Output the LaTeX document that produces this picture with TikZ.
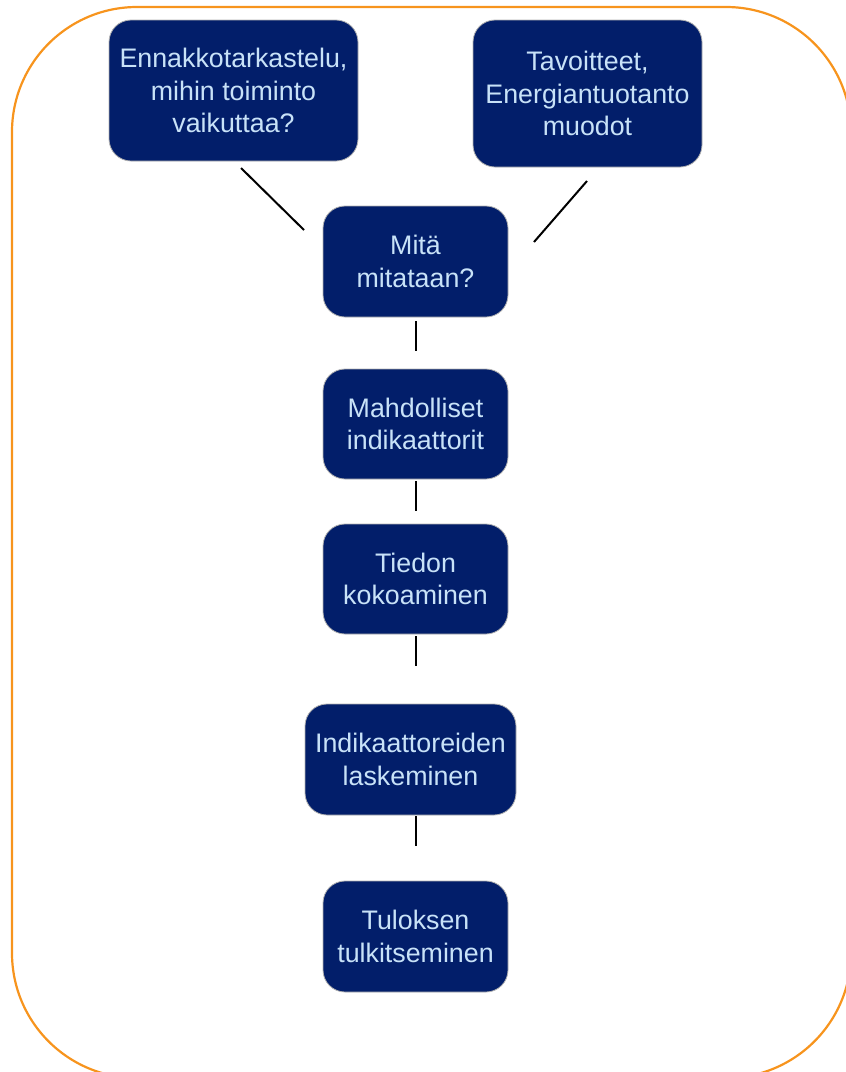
\documentclass[tikz,border=0pt]{standalone}
\usepackage{fontspec}
\setmainfont{Liberation Sans}
\definecolor{navy}{HTML}{021E6A}
\definecolor{lblue}{HTML}{C8E2F8}
\definecolor{borderorange}{HTML}{F7941D}
\begin{document}
\begin{tikzpicture}[x=1pt,y=-1pt,
  box/.style={draw=gray!60, line width=0.8pt, fill=navy, rounded corners=22pt,
    text=lblue, align=center, inner sep=0pt,
    font=\fontsize{26.8}{32.8}\selectfont},
  conn/.style={draw=black, line width=2pt}]
\useasboundingbox (0,0) rectangle (846,1072);
\begin{scope}
\clip (0,0) rectangle (846,1072);
\draw[borderorange, line width=2.2pt, rounded corners=125pt] (12,7) rectangle (851,1078);
\end{scope}
\node[box, minimum width=249pt, minimum height=141pt] (b1) at (233.5,90.5) {Ennakkotarkastelu,\\mihin toiminto\\vaikuttaa?};
\node[box, minimum width=229pt, minimum height=147pt] (b2) at (587.5,93.5) {Tavoitteet,\\Energiantuotanto\\muodot};
\node[box, minimum width=185pt, minimum height=111pt] (mita) at (415.5,261.5) {Mitä\\mitataan?};
\node[box, minimum width=185pt, minimum height=110pt] (mahd) at (415.5,424) {Mahdolliset\\indikaattorit};
\node[box, minimum width=185pt, minimum height=110pt] (tied) at (415.5,579) {Tiedon\\kokoaminen};
\node[box, minimum width=211pt, minimum height=111pt] (indi) at (410.5,759.5) {Indikaattoreiden\\laskeminen};
\node[box, minimum width=185pt, minimum height=111pt] (tulo) at (415.5,936.5) {Tuloksen\\tulkitseminen};
\coordinate (c1a) at (241,168);
\coordinate (c1b) at (304,230);
\coordinate (c2a) at (587,181);
\coordinate (c2b) at (534,242);
\draw[conn] (c1a) -- (c1b);
\draw[conn] (c2a) -- (c2b);
\draw[conn, shorten <=4pt, shorten >=18pt] (mita.south) -- (mahd.north);
\draw[conn, shorten <=2pt, shorten >=13pt] (mahd.south) -- (tied.north);
\draw[conn, shorten <=2pt, shorten >=38pt] (tied.south) -- (indi.north -| tied.south);
\draw[conn, shorten <=1pt, shorten >=35pt] (indi.south -| tied.south) -- (tulo.north);
\end{tikzpicture}
\end{document}
